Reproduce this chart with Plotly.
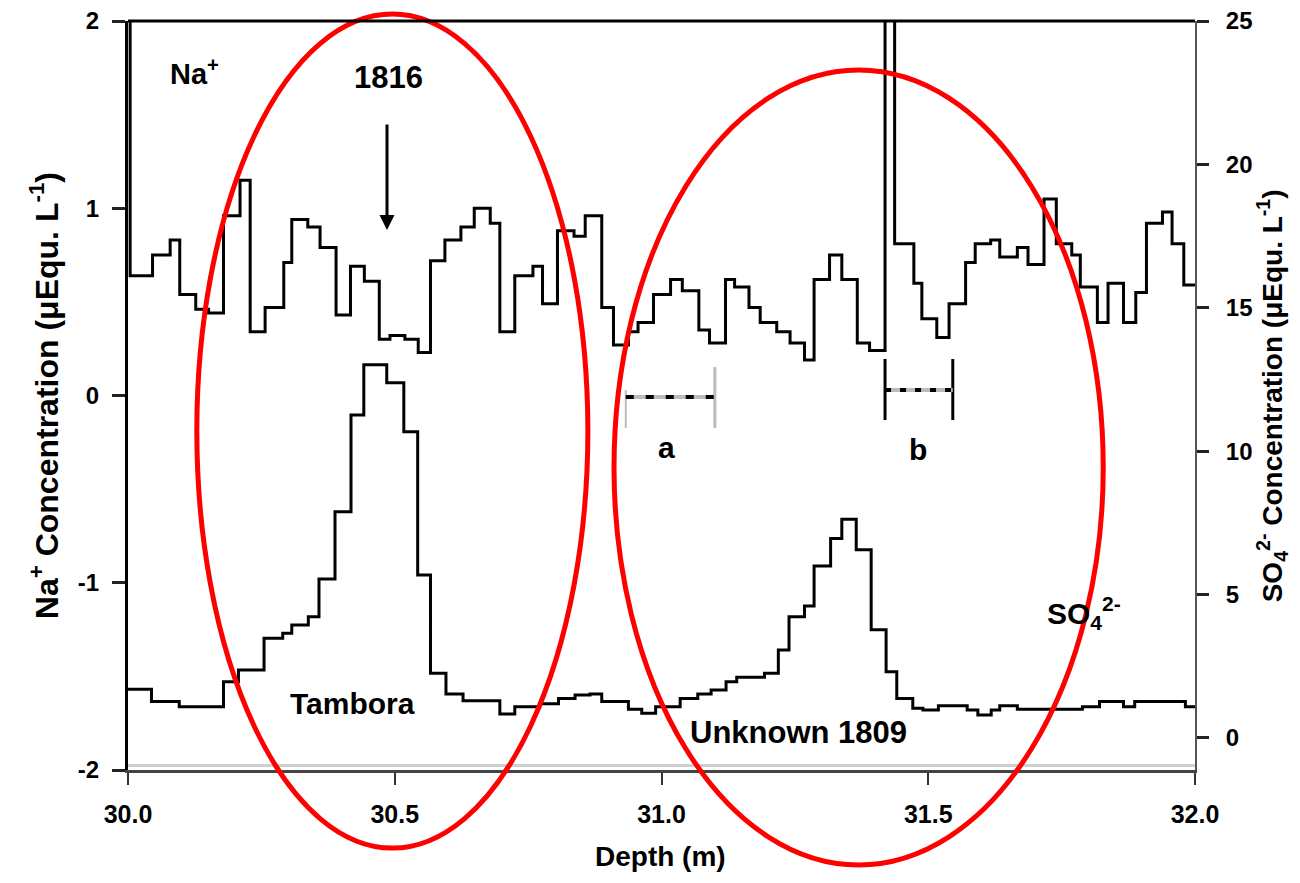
import plotly.graph_objects as go

# ---------------- data ----------------
# Na+ step series (left axis): left edges of each sample interval (m) + final edge
na_edges = [30.000, 30.004, 30.046, 30.079, 30.097, 30.127, 30.151, 30.179, 30.210, 30.229,
            30.257, 30.292, 30.307, 30.337, 30.360, 30.390, 30.417, 30.443, 30.471, 30.491,
            30.519, 30.544, 30.567, 30.594, 30.624, 30.649, 30.679, 30.697, 30.725, 30.759,
            30.777, 30.805, 30.836, 30.857, 30.888, 30.910, 30.938, 30.956, 30.985, 31.017,
            31.039, 31.070, 31.090, 31.120, 31.137, 31.164, 31.185, 31.216, 31.241, 31.268,
            31.286, 31.315, 31.338, 31.367, 31.390, 31.419, 31.437, 31.473, 31.488, 31.516,
            31.539, 31.570, 31.588, 31.617, 31.634, 31.667, 31.687, 31.717, 31.740, 31.769,
            31.785, 31.817, 31.837, 31.866, 31.889, 31.909, 31.939, 31.957, 31.979, 32.000]
na_values = [3.0, 0.64, 0.75, 0.83, 0.54, 0.46, 0.44, 0.96, 1.15, 0.34,
             0.47, 0.71, 0.94, 0.90, 0.79, 0.43, 0.69, 0.61, 0.30, 0.32,
             0.30, 0.23, 0.72, 0.83, 0.90, 1.00, 0.92, 0.34, 0.64, 0.69,
             0.49, 0.88, 0.85, 0.96, 0.47, 0.27, 0.34, 0.39, 0.54, 0.62,
             0.56, 0.35, 0.28, 0.62, 0.58, 0.47, 0.39, 0.34, 0.28, 0.19,
             0.62, 0.75, 0.62, 0.28, 0.24, 3.0, 0.81, 0.60, 0.41, 0.31,
             0.49, 0.71, 0.81, 0.83, 0.74, 0.79, 0.70, 1.05, 0.81, 0.75,
             0.58, 0.39, 0.60, 0.39, 0.55, 0.92, 0.98, 0.81, 0.59]

# SO4 2- step series (right axis)
so4_edges = [30.000, 30.044, 30.096, 30.179, 30.207, 30.255, 30.290, 30.307, 30.338, 30.358,
             30.388, 30.418, 30.442, 30.485, 30.517, 30.543, 30.567, 30.596, 30.628, 30.697,
             30.725, 30.772, 30.807, 30.838, 30.866, 30.888, 30.938, 30.963, 30.989, 31.035,
             31.068, 31.093, 31.121, 31.141, 31.193, 31.219, 31.239, 31.268, 31.286, 31.317,
             31.338, 31.365, 31.393, 31.421, 31.441, 31.471, 31.490, 31.519, 31.573, 31.593,
             31.618, 31.634, 31.667, 31.789, 31.821, 31.866, 31.887, 31.982, 32.000]
so4_values = [1.70, 1.27, 1.09, 1.96, 2.37, 3.48, 3.65, 3.94, 4.23, 5.54,
              7.89, 11.26, 13.01, 12.39, 10.68, 5.68, 2.26, 1.53, 1.30, 0.84,
              1.09, 1.19, 1.38, 1.50, 1.53, 1.27, 1.00, 0.86, 1.09, 1.38,
              1.53, 1.67, 1.96, 2.12, 2.26, 3.07, 4.23, 4.60, 6.00, 6.96,
              7.63, 6.56, 3.77, 2.31, 1.38, 1.04, 0.98, 1.12, 0.98, 0.80,
              0.98, 1.12, 1.00, 1.09, 1.27, 1.09, 1.27, 1.09]

x_ticks = [30.0, 30.5, 31.0, 31.5, 32.0]
x_ticktext = ["30.0", "30.5", "31.0", "31.5", "32.0"]
y_ticks = [2, 1, 0, -1, -2]
y_ticktext = ["2", "1", "0", "-1", "-2"]
y2_ticks = [25, 20, 15, 10, 5, 0]
y2_ticktext = ["25", "20", "15", "10", "5", "0"]

X_RANGE = [30.0, 32.0]
Y_RANGE = [-2.0, 2.0]
Y2_RANGE = [-1.116, 25.0]

FONT = "Liberation Sans, Arial, sans-serif"

fig = go.Figure()
fig.add_trace(go.Scatter(
    x=na_edges, y=na_values + [na_values[-1]], mode="lines",
    line=dict(shape="hv", color="black", width=3), yaxis="y", showlegend=False))
fig.add_trace(go.Scatter(
    x=so4_edges, y=so4_values + [so4_values[-1]], mode="lines",
    line=dict(shape="hv", color="black", width=3), yaxis="y2", showlegend=False))


def px(d):
    return (d - X_RANGE[0]) / (X_RANGE[1] - X_RANGE[0])


def py(v):
    return (v - Y_RANGE[0]) / (Y_RANGE[1] - Y_RANGE[0])


shapes = []
# red ellipses (extend outside plot area -> paper refs)
for (d0, d1, v0, v1) in [(30.129, 30.862, -2.417, 2.037), (30.911, 31.828, -2.507, 1.738)]:
    shapes.append(dict(type="circle", xref="paper", yref="paper",
                       x0=px(d0), x1=px(d1), y0=py(v0), y1=py(v1),
                       line=dict(color="#ff0000", width=5), layer="above"))
# top frame line
shapes.append(dict(type="line", xref="paper", yref="paper", x0=0, x1=1, y0=1, y1=1,
                   line=dict(color="black", width=3)))
# light shadow above x axis
shapes.append(dict(type="line", xref="paper", yref="paper", x0=0, x1=1, y0=0.006, y1=0.006,
                   line=dict(color="#d0d0d0", width=3), layer="below"))

# measurement markers a and b
shapes += [
    dict(type="line", xref="x", yref="y", x0=30.933, x1=30.933, y0=-0.173, y1=0.029,
         line=dict(color="#bbbbbb", width=2)),
    dict(type="line", xref="x", yref="y", x0=31.100, x1=31.100, y0=-0.173, y1=0.152,
         line=dict(color="#bbbbbb", width=3)),
    dict(type="line", xref="x", yref="y", x0=30.933, x1=31.100, y0=-0.008, y1=-0.008,
         line=dict(color="#bbbbbb", width=4)),
    dict(type="line", xref="x", yref="y", x0=30.933, x1=31.100, y0=-0.008, y1=-0.008,
         line=dict(color="black", width=4, dash="8px,12px")),
    dict(type="line", xref="x", yref="y", x0=31.419, x1=31.419, y0=-0.131, y1=0.195,
         line=dict(color="black", width=3)),
    dict(type="line", xref="x", yref="y", x0=31.546, x1=31.546, y0=-0.131, y1=0.195,
         line=dict(color="black", width=3)),
    dict(type="line", xref="x", yref="y", x0=31.419, x1=31.546, y0=0.029, y1=0.029,
         line=dict(color="#bbbbbb", width=4)),
    dict(type="line", xref="x", yref="y", x0=31.419, x1=31.546, y0=0.029, y1=0.029,
         line=dict(color="black", width=4, dash="6px,9px")),
]


def f(size):
    return dict(family=FONT, size=size, color="black", weight="bold")


annotations = [
    dict(x=30.124, y=1.728, xref="x", yref="y", text="Na<sup>+</sup>", showarrow=False,
         font=f(29), xanchor="center", yanchor="middle"),
    dict(x=30.489, y=1.70, xref="x", yref="y", text="1816", showarrow=False,
         font=f(31), xanchor="center", yanchor="middle"),
    dict(x=30.4855, y=0.884, xref="x", yref="y", ax=30.4855, ay=1.455, axref="x", ayref="y",
         text="", showarrow=True, arrowhead=2, arrowsize=1, arrowwidth=3, arrowcolor="black"),
    dict(x=31.010, y=-0.28, xref="x", yref="y", text="a", showarrow=False,
         font=f(30), xanchor="center", yanchor="middle"),
    dict(x=31.481, y=-0.29, xref="x", yref="y", text="b", showarrow=False,
         font=f(30), xanchor="center", yanchor="middle"),
    dict(x=30.420, y=-1.645, xref="x", yref="y", text="Tambora", showarrow=False,
         font=f(30), xanchor="center", yanchor="middle"),
    dict(x=31.256, y=-1.80, xref="x", yref="y", text="Unknown 1809", showarrow=False,
         font=f(31), xanchor="center", yanchor="middle"),
    dict(x=31.719, y=-1.16, xref="x", yref="y", text="SO<sub>4</sub><sup>2-</sup>",
         showarrow=False, font=f(30), xanchor="left", yanchor="middle"),
    # axis titles
    dict(x=-0.079, y=0.5, xref="paper", yref="paper",
         text="Na<sup>+</sup> Concentration (μEqu. L<sup>-1</sup>)", textangle=-90,
         showarrow=False, font=f(32), xanchor="center", yanchor="middle"),
    dict(x=1.072, y=0.5, xref="paper", yref="paper",
         text="SO<sub>4</sub><sup>2-</sup> Concentration (μEqu. L<sup>-1</sup>)", textangle=-90,
         showarrow=False, font=f(28), xanchor="center", yanchor="middle"),
    dict(x=0.4986, y=-0.116, xref="paper", yref="paper", text="Depth (m)",
         showarrow=False, font=f(28), xanchor="center", yanchor="middle"),
]

fig.update_layout(
    width=1300, height=883,
    margin=dict(l=120, r=113, t=13, b=121, autoexpand=False),
    paper_bgcolor="white", plot_bgcolor="white",
    font=dict(family=FONT, color="black"),
    showlegend=False,
    xaxis=dict(range=X_RANGE, tickvals=x_ticks, ticktext=x_ticktext, showgrid=False,
               zeroline=False, showline=True, linecolor="#444444", linewidth=3,
               ticks="outside", ticklen=12, tickwidth=2, tickcolor="#333333",
               tickfont=f(25), ticklabelstandoff=8, ticklabeloverflow="allow",
               automargin=False),
    yaxis=dict(range=Y_RANGE, tickvals=y_ticks, ticktext=y_ticktext, showgrid=False,
               zeroline=False, showline=True, linecolor="black", linewidth=3,
               ticks="outside", ticklen=13, tickwidth=3, tickcolor="#222222",
               tickfont=f(24), ticklabelstandoff=8, ticklabeloverflow="allow",
               automargin=False),
    yaxis2=dict(range=Y2_RANGE, tickvals=y2_ticks, ticktext=y2_ticktext, overlaying="y",
                side="right", showgrid=False, zeroline=False, showline=True,
                linecolor="#555555", linewidth=2, ticks="outside", ticklen=12, tickwidth=3,
                tickcolor="#222222", tickfont=f(24), ticklabelstandoff=12,
                ticklabeloverflow="allow", automargin=False),
    shapes=shapes,
    annotations=annotations,
)

fig.write_html("out.html")
